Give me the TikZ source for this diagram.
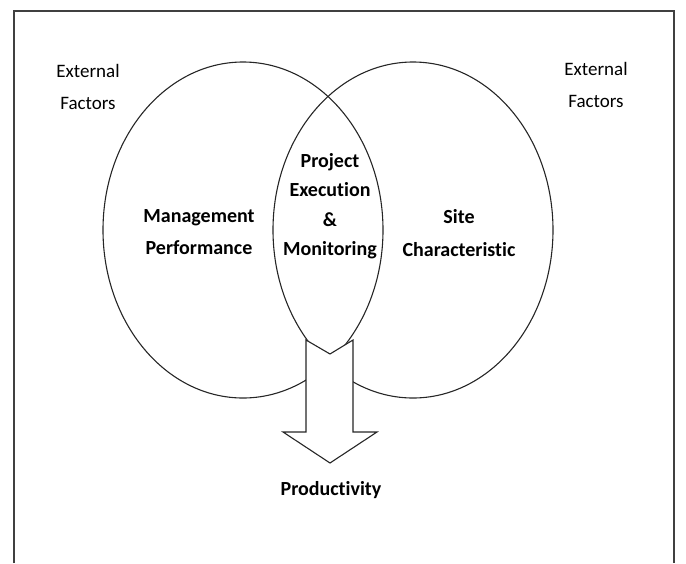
\documentclass[tikz,border=0pt]{standalone}
\usepackage{fontspec}
\setmainfont[Ligatures=NoCommon]{Carlito}
\usetikzlibrary{shapes.geometric}
\begin{document}
\begin{tikzpicture}[x=1pt,y=-1pt,
  ring/.style={ellipse,draw=black!85,line width=1.1pt,minimum width=280pt,minimum height=336pt,inner sep=0pt},
  outer/.style={align=center,font=\fontsize{19}{32}\selectfont,inner sep=0pt},
  inner/.style={align=center,font=\fontsize{20}{32.5}\selectfont\bfseries,inner sep=0pt},
  lens/.style={align=center,font=\fontsize{20}{29.5}\selectfont\bfseries,inner sep=0pt},
  frame/.style={draw=black!75,line width=1.3pt},
  flow/.style={draw=black!85,line width=1.1pt,fill=white,line join=miter}]
\useasboundingbox (0,0) rectangle (686,563);
% outer frame, open at the bottom edge
\draw[frame] (14,563) -- (14,11) -- (674,11) -- (674,563);
% the two overlapping areas
\node[ring] (L) at (243,230) {};
\node[ring] (R) at (413,230) {};
% arrow leaving the overlap
\coordinate (aTL) at (306,340);
\coordinate (aN)  at (330,354);
\coordinate (aTR) at (353,340);
\coordinate (aSR) at (353,432);
\coordinate (aWR) at (377,432);
\coordinate (aTip) at (330,463);
\coordinate (aWL) at (283,432);
\coordinate (aSL) at (306,432);
\draw[flow] (aTL) -- (aN) -- (aTR) -- (aSR) -- (aWR) -- (aTip) -- (aWL) -- (aSL) -- cycle;
% labels
\node[outer] (extL) at (88,87) {External\\Factors};
\node[outer] (extR) at (596,85) {External\\Factors};
\node[inner] (mp) at (199,232) {Management\\Performance};
\node[inner] (sc) at (459,233) {Site\\Characteristic};
\node[lens] (pem) at (330,206) {Project\\Execution\\\&\\Monitoring};
\node[inner] (prod) at (331,490) {Productivity};
\end{tikzpicture}
\end{document}
